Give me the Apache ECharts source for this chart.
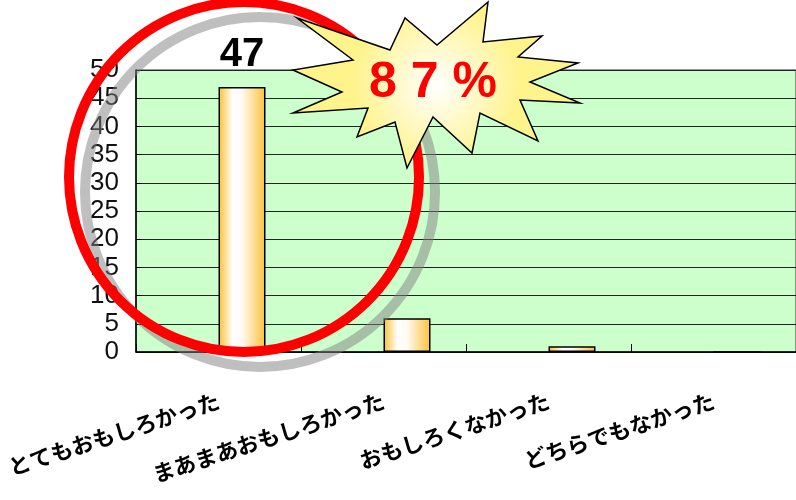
<!DOCTYPE html>
<html>
<head>
<meta charset="utf-8">
<script src="https://cdn.jsdelivr.net/npm/echarts@6/dist/echarts.min.js"></script>
<style>
*{margin:0;padding:0;}
body{background:#fff;}
#main{width:796px;height:500px;}
</style>
</head>
<body>
<div id="main"></div>
<script>
// 回答カテゴリと人数
var categories = ['とてもおもしろかった', 'まあまあおもしろかった', 'おもしろくなかった', 'どちらでもなかった'];
var counts = [47, 6, 1, 0];
var yTicks = {min: 0, max: 50, interval: 5};
var badgeText = '8 7 %';

var chart = echarts.init(document.getElementById('main'));

var barFill = {
  type: 'linear', x: 0, y: 0, x2: 1, y2: 0,
  colorStops: [
    {offset: 0, color: '#fbbf2c'},
    {offset: 0.3, color: '#ffffff'},
    {offset: 0.5, color: '#fffaf3'},
    {offset: 1, color: '#fcc23a'}
  ]
};

var barData = counts.map(function (v, i) {
  return {
    value: v,
    label: {show: i === 0}
  };
});

// 吹き出し（星形）の頂点
var starPts = [
  [488, 2], [483, 42], [542, 36], [518, 57], [578, 63], [530, 82], [580, 103],
  [520, 100], [538, 141], [480, 113], [472, 153], [433, 117], [407, 168],
  [395, 122], [357, 137], [368, 108], [293, 113], [342, 92], [293, 70],
  [353, 60], [297, 18], [390, 50], [405, 18], [437, 45]
];

var option = {
  animation: false,
  grid: {
    left: 136, right: -2, top: 70, bottom: 148,
    show: true, backgroundColor: '#ccffcc', borderColor: '#333', borderWidth: 1
  },
  xAxis: {
    type: 'category',
    data: categories,
    axisLine: {lineStyle: {color: '#000', width: 1.5}},
    axisTick: {show: true, inside: true, length: 8, lineStyle: {color: '#000'}},
    axisLabel: {
      interval: 0, rotate: 18, margin: 48,
      fontFamily: 'Noto Sans CJK JP', fontSize: 22, fontWeight: 'bold', color: '#000'
    }
  },
  yAxis: {
    type: 'value',
    min: yTicks.min, max: yTicks.max, interval: yTicks.interval,
    axisLine: {show: true, lineStyle: {color: '#000', width: 1.5}},
    axisTick: {show: true, inside: true, length: 6, lineStyle: {color: '#000'}},
    splitLine: {lineStyle: {color: '#222', width: 1}},
    axisLabel: {fontFamily: '"Liberation Sans Narrow", "Liberation Sans"', fontSize: 26, color: '#111', margin: 17}
  },
  series: [
    {type: 'bar', data: counts.map(function () { return '-'; }), barWidth: 47, barGap: '0%'},
    {
      type: 'bar',
      data: barData,
      barWidth: 47,
      barGap: '0%',
      itemStyle: {color: barFill, borderColor: '#000', borderWidth: 1.5},
      label: {
        position: 'top', distance: 12,
        fontFamily: 'Liberation Sans', fontSize: 40, fontWeight: 'bold', color: '#000'
      }
    }
  ],
  graphic: [
    {
      type: 'circle', z: 100,
      shape: {cx: 260, cy: 192, r: 175},
      style: {fill: 'none', stroke: 'rgba(128,128,128,0.5)', lineWidth: 10}
    },
    {
      type: 'circle', z: 101,
      shape: {cx: 244, cy: 177, r: 175},
      style: {fill: 'none', stroke: '#ff0000', lineWidth: 10}
    },
    {
      type: 'polygon', z: 102,
      shape: {points: starPts},
      style: {
        fill: {
          type: 'radial', x: 0.5, y: 0.5, r: 0.5,
          colorStops: [{offset: 0, color: '#ffffff'}, {offset: 1, color: '#fff38c'}]
        },
        stroke: '#000', lineWidth: 1.5
      }
    },
    {
      type: 'text', z: 103,
      x: 433, y: 83,
      style: {
        text: badgeText, fill: '#ff0000',
        font: 'bold 50px "Liberation Sans"',
        align: 'center', verticalAlign: 'middle'
      }
    }
  ]
};

chart.setOption(option);
</script>
</body>
</html>
